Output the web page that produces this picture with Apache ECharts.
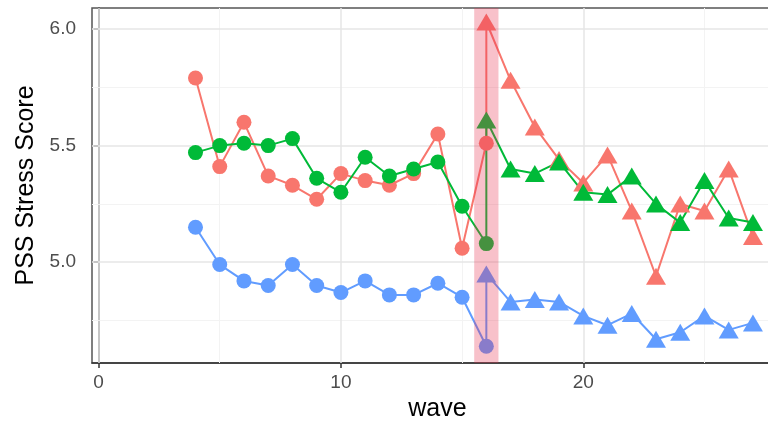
<!DOCTYPE html>
<html>
<head>
<meta charset="utf-8">
<script src="https://cdn.jsdelivr.net/npm/echarts@6/dist/echarts.min.js"></script>
<style>
  html, body { margin: 0; padding: 0; background: #fff; overflow: hidden; }
  /* the plot panel runs past the right edge of the window, as in the picture */
  #main { width: 783px; height: 427px; }
</style>
</head>
<body>
<div id="main"></div>
<script>
var myChart = echarts.init(document.getElementById('main'));

// waves: circles before the switch, triangles from wave 16 on
var circleWaves = [4, 5, 6, 7, 8, 9, 10, 11, 12, 13, 14, 15, 16];
var triWaves = [16, 17, 18, 19, 20, 21, 22, 23, 24, 25, 26, 27];

var redCircle = [5.79, 5.41, 5.60, 5.37, 5.33, 5.27, 5.38, 5.35, 5.33, 5.38, 5.55, 5.06, 5.51];
var redTri = [6.03, 5.78, 5.58, 5.44, 5.34, 5.46, 5.22, 4.94, 5.25, 5.22, 5.40, 5.11];
var greenCircle = [5.47, 5.50, 5.51, 5.50, 5.53, 5.36, 5.30, 5.45, 5.37, 5.40, 5.43, 5.24, 5.08];
var greenTri = [5.61, 5.40, 5.38, 5.43, 5.30, 5.29, 5.37, 5.25, 5.17, 5.35, 5.19, 5.17];
var blueCircle = [5.15, 4.99, 4.92, 4.90, 4.99, 4.90, 4.87, 4.92, 4.86, 4.86, 4.91, 4.85, 4.64];
var blueTri = [4.95, 4.83, 4.84, 4.83, 4.77, 4.73, 4.78, 4.67, 4.70, 4.77, 4.71, 4.74];

var xTicks = [0, 10, 20];
var xMinor = [5, 15, 25];
var yTicks = [5.0, 5.5, 6.0];
var yMinor = [4.75, 5.25, 5.75];
var band = [15.5, 16.5];

var nCircle = circleWaves.length;

function pairs(circ, tri) {
    var res = [];
    for (var i = 0; i < circ.length; i++) res.push([circleWaves[i], circ[i]]);
    for (var j = 0; j < tri.length; j++) res.push([triWaves[j], tri[j]]);
    return res;
}

function makeSeries(name, color, circ, tri) {
    return {
        name: name,
        type: 'line',
        z: 3,
        data: pairs(circ, tri),
        symbol: function (val, params) {
            return params.dataIndex < nCircle ? 'circle' : 'triangle';
        },
        symbolSize: function (val, params) {
            return params.dataIndex < nCircle ? 15 : [20, 17];
        },
        showAllSymbol: true,
        lineStyle: { color: color, width: 2 },
        itemStyle: { color: color, borderWidth: 0 },
        emphasis: { disabled: true },
        animation: false
    };
}

var gridLines = [];
xMinor.forEach(function (v) { gridLines.push({ xAxis: v, lineStyle: { color: '#f3f3f3', width: 1, type: 'solid' } }); });
yMinor.forEach(function (v) { gridLines.push({ yAxis: v, lineStyle: { color: '#f3f3f3', width: 1, type: 'solid' } }); });
xTicks.forEach(function (v) { gridLines.push({ xAxis: v, lineStyle: { color: '#e6e6e6', width: 1.5, type: 'solid' } }); });
yTicks.forEach(function (v) { gridLines.push({ yAxis: v, lineStyle: { color: '#e6e6e6', width: 1.5, type: 'solid' } }); });

var tickLabel = { color: '#4d4d4d', fontSize: 19, fontFamily: 'Liberation Sans, Arial, sans-serif' };

option = {
    backgroundColor: '#fff',
    animation: false,
    grid: {
        left: 92, right: 0, top: 8, bottom: 64,
        show: true, borderColor: '#555', borderWidth: 1.5, backgroundColor: '#fff'
    },
    xAxis: {
        type: 'value',
        min: -0.27,
        max: 28.24,
        name: 'wave',
        nameLocation: 'middle',
        nameGap: 31,
        nameTextStyle: { color: '#000', fontSize: 25, fontFamily: 'Liberation Sans, Arial, sans-serif' },
        splitLine: { show: false },
        axisLine: { show: true, lineStyle: { color: '#333', width: 1.5 } },
        axisTick: { show: true, customValues: xTicks, length: 5, lineStyle: { color: '#333', width: 1.5 } },
        axisLabel: Object.assign({ customValues: xTicks, margin: 10 }, tickLabel)
    },
    yAxis: {
        type: 'value',
        min: 4.568,
        max: 6.09,
        name: 'PSS Stress Score',
        nameLocation: 'middle',
        nameGap: 52,
        nameTextStyle: { color: '#000', fontSize: 25, fontFamily: 'Liberation Sans, Arial, sans-serif' },
        splitLine: { show: false },
        axisLine: { show: true, lineStyle: { color: '#333', width: 1.5 } },
        axisTick: { show: true, customValues: yTicks, length: 5, lineStyle: { color: '#333', width: 1.5 } },
        axisLabel: Object.assign({
            customValues: yTicks, margin: 16,
            formatter: function (v) { return v.toFixed(1); }
        }, tickLabel)
    },
    series: [
        {
            type: 'line',
            z: 1,
            data: [],
            silent: true,
            markLine: { z: 1, symbol: 'none', silent: true, label: { show: false }, data: gridLines, animation: false }
        },
        makeSeries('red', '#F8766D', redCircle, redTri),
        makeSeries('green', '#00BA38', greenCircle, greenTri),
        makeSeries('blue', '#619CFF', blueCircle, blueTri),
        {
            type: 'custom',
            z: 10,
            silent: true,
            encode: { x: [0, 1] },
            data: [band],
            renderItem: function (params, api) {
                var cs = params.coordSys;
                var p0 = api.coord([api.value(0), 5]);
                var p1 = api.coord([api.value(1), 5]);
                return {
                    type: 'rect',
                    shape: { x: p0[0], y: cs.y, width: p1[0] - p0[0], height: cs.height },
                    style: { fill: 'rgba(232, 50, 80, 0.3)' }
                };
            }
        }
    ]
};

myChart.setOption(option);
</script>
</body>
</html>
